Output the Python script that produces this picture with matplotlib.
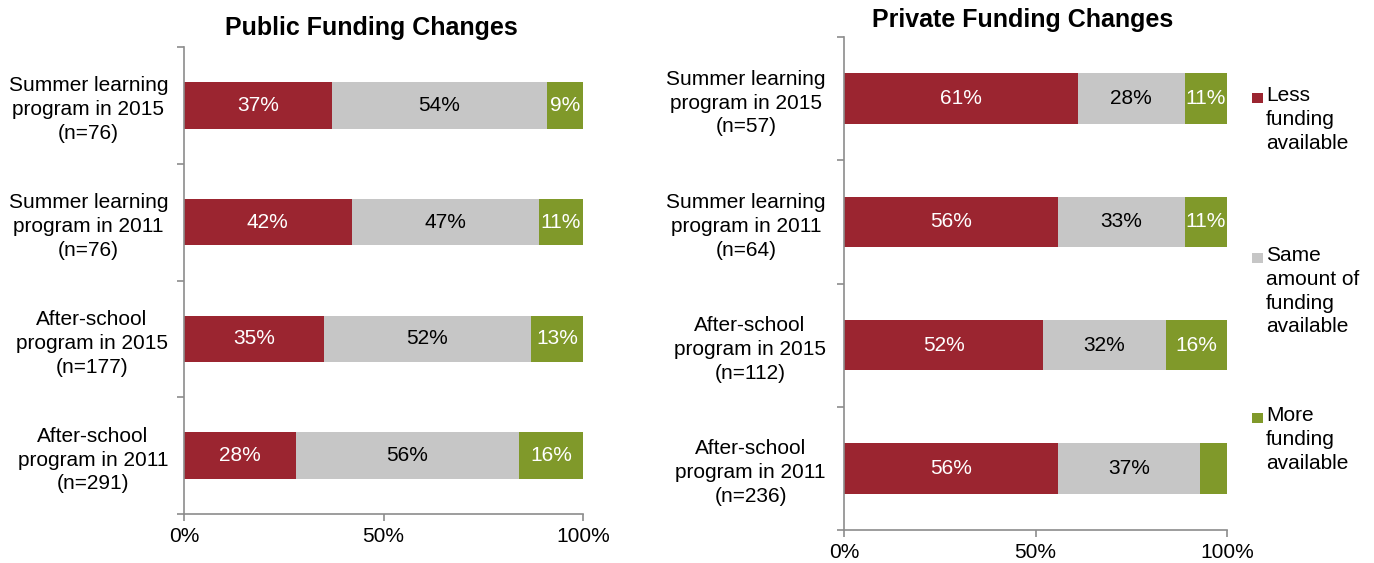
import numpy as np
import matplotlib.pyplot as plt
import matplotlib.patches as mpatches

plt.rcParams.update({
    'font.family': ['Liberation Sans', 'DejaVu Sans'],
    'font.size': 15,
})

# --- data ---
CATEGORIES_PUBLIC = ['Summer learning\nprogram in 2015\n(n=76)',
                     'Summer learning\nprogram in 2011\n(n=76)',
                     'After-school\nprogram in 2015\n(n=177)',
                     'After-school\nprogram in 2011\n(n=291)']
CATEGORIES_PRIVATE = ['Summer learning\nprogram in 2015\n(n=57)',
                      'Summer learning\nprogram in 2011\n(n=64)',
                      'After-school\nprogram in 2015\n(n=112)',
                      'After-school\nprogram in 2011\n(n=236)']
PUBLIC_LESS = [37, 42, 35, 28]
PUBLIC_SAME = [54, 47, 52, 56]
PUBLIC_MORE = [9, 11, 13, 16]
PRIVATE_LESS = [61, 56, 52, 56]
PRIVATE_SAME = [28, 33, 32, 37]
PRIVATE_MORE = [11, 11, 16, 7]
SERIES_LABELS = ['Less\nfunding\navailable',
                 'Same\namount of\nfunding\navailable',
                 'More\nfunding\navailable']
X_TICKS = [0, 50, 100]
X_TICKLABELS = ['0%', '50%', '100%']

COLORS = ['#9B2530', '#C6C6C6', '#80992A']
TEXT_COLORS = ['white', 'black', 'white']
SPINE = '#8C8C8C'
W, H = 1374, 563

fig = plt.figure(figsize=(W / 100, H / 100), dpi=100)


def draw(ax, cats, series, bar_h, label_pad):
    y = np.arange(len(cats))
    left = np.zeros(len(cats))
    for vals, col, tcol in zip(series, COLORS, TEXT_COLORS):
        vals = np.array(vals, dtype=float)
        bars = ax.barh(y, vals, left=left, height=bar_h, color=col,
                       edgecolor='none')
        # the thin 7% sliver carries no label in the original
        labels = [f'{v:.0f}%' if v >= 8 else '' for v in vals]
        ax.bar_label(bars, labels=labels, label_type='center',
                     color=tcol, fontsize=15)
        left += vals
    ax.set_xlim(0, 100)
    ax.set_ylim(len(cats) - 0.5, -0.5)
    ax.set_yticks(y)
    ax.set_yticklabels(cats)
    for t in ax.get_yticklabels():
        t.set_multialignment('center')
        t.set_linespacing(1.32)
    ax.set_yticks(np.arange(len(cats) + 1) - 0.5, minor=True)
    ax.tick_params(axis='y', which='major', length=0, pad=label_pad)
    ax.tick_params(axis='y', which='minor', length=5, width=1.2, color=SPINE)
    ax.set_xticks(X_TICKS)
    ax.set_xticklabels(X_TICKLABELS)
    ax.tick_params(axis='x', length=5, width=1.2, color=SPINE, pad=4)
    for s in ['top', 'right']:
        ax.spines[s].set_visible(False)
    for s in ['left', 'bottom']:
        ax.spines[s].set_color(SPINE)
        ax.spines[s].set_linewidth(1.2)


ax1 = fig.add_axes([184 / W, 1 - 514 / H, (583 - 184) / W, (514 - 47) / H])
draw(ax1, CATEGORIES_PUBLIC, [PUBLIC_LESS, PUBLIC_SAME, PUBLIC_MORE], 0.40, 11.5)
fig.text(371 / W, 1 - 28 / H, 'Public Funding Changes', ha='center', va='center',
         fontsize=18, fontweight='bold')

ax2 = fig.add_axes([844 / W, 1 - 530 / H, (1227 - 844) / W, (530 - 37) / H])
draw(ax2, CATEGORIES_PRIVATE, [PRIVATE_LESS, PRIVATE_SAME, PRIVATE_MORE], 0.41, 13)
fig.text(1023 / W, 1 - 20 / H, 'Private Funding Changes', ha='center', va='center',
         fontsize=18, fontweight='bold')

# legend: square swatch next to the first line of each label, entries spread down
tops = [86, 246, 406]
for lab, col, top in zip(SERIES_LABELS, COLORS, tops):
    fig.patches.append(mpatches.Rectangle(
        (1252 / W, 1 - (top + 17) / H), 11 / W, 10 / H,
        transform=fig.transFigure, facecolor=col, edgecolor='none'))
    fig.text(1266 / W, 1 - top / H, lab, ha='left', va='top',
             fontsize=15, linespacing=1.32)

fig.savefig('out.png', dpi=100)
